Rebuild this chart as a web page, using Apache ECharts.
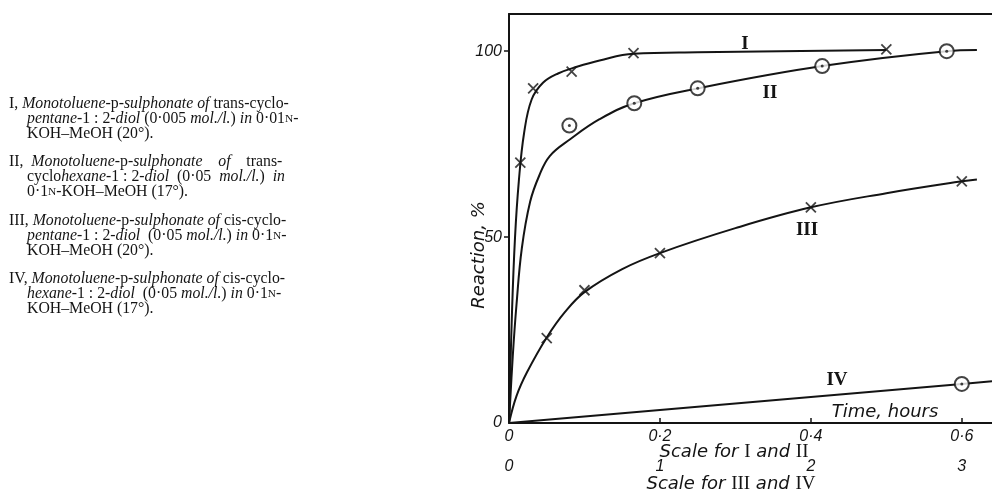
<!DOCTYPE html>
<html><head><meta charset="utf-8">
<script src="https://cdn.jsdelivr.net/npm/echarts@6/dist/echarts.min.js"></script>
<style>html,body{margin:0;padding:0;background:#fff}#c{width:992px;height:493px}</style>
</head><body><div id="c"></div>
<script>
// ---- tick values ----
const xTicksI = [0, 0.2, 0.4, 0.6];      // scale for I and II (hours)
const xTicksIII = [0, 1, 2, 3];          // scale for III and IV (hours)
const yTicks = [0, 50, 100];

// ---- series I (x in hours, scale for I and II) ----
const ptsI = [[0.015, 70], [0.032, 90], [0.083, 94.5], [0.165, 99.5], [0.5, 100.5]];
const curveI = [[0, 0], [0.004, 30], [0.008, 50], [0.013, 65], [0.02, 78], [0.03, 87], [0.045, 91.5], [0.065, 94], [0.09, 95.8], [0.12, 97.5], [0.165, 99.3], [0.25, 99.7], [0.5, 100.3]];
// ---- series II ----
const ptsII = [[0.08, 80], [0.166, 86], [0.25, 90], [0.415, 96], [0.58, 100]];
const curveII = [[0, 0], [0.005, 18], [0.01, 32], [0.017, 47], [0.028, 59.5], [0.04, 66.5], [0.054, 71.8], [0.081, 76.3], [0.12, 81.7], [0.166, 86], [0.25, 90], [0.415, 96], [0.58, 100], [0.62, 100.3]];
// ---- series III (x in hours, scale for III and IV) ----
const ptsIII = [[0.25, 22.8], [0.5, 35.7], [1, 45.7], [2, 58], [3, 65]];
const curveIII = [[0, 0], [0.05, 7.3], [0.12, 13.7], [0.25, 23], [0.37, 29.8], [0.5, 35.2], [0.75, 41.4], [1, 45.7], [1.5, 52.4], [2, 58], [2.5, 61.8], [3, 65], [3.1, 65.5]];
// ---- series IV ----
const ptsIV = [[3, 10.5]];
const curveIV = [[0, 0], [3, 10.5], [3.2, 11.2]];

const INK = '#141414';
const NUMF = 'Liberation Sans';
const WORDF = 'DejaVu Sans';
const SERIF = 'Liberation Serif';
const crossPath = 'path://M0 0L10 10M10 0L0 10';

const chart = echarts.init(document.getElementById('c'), null, {renderer: 'canvas'});

function lineSeries(data, xi, smooth) {
  return {type: 'line', data: data, xAxisIndex: xi, yAxisIndex: 0, smooth: smooth ? 0.4 : false,
    showSymbol: false, silent: true,
    lineStyle: {color: INK, width: 2}, z: 2};
}
function crossSeries(data, xi) {
  return {type: 'scatter', data: data, xAxisIndex: xi, symbol: crossPath, symbolSize: 10, silent: true,
    itemStyle: {color: 'rgba(0,0,0,0)', borderColor: INK, borderWidth: 1.8}, z: 4};
}
function circleSeries(data, xi) {
  return [
    {type: 'scatter', data: data, xAxisIndex: xi, symbol: 'circle', symbolSize: 14, silent: true,
      itemStyle: {color: '#fff', borderColor: INK, borderWidth: 2}, z: 4},
    {type: 'scatter', data: data, xAxisIndex: xi, symbol: 'circle', symbolSize: 3, silent: true,
      itemStyle: {color: INK}, z: 5}
  ];
}
const fmtDot = v => v === 0 ? '0' : String(+v.toFixed(2)).replace('.', '·');

const labelStyle = {fontFamily: NUMF, fontStyle: 'italic', fontSize: 16, color: INK};
const TS = 15.8;

function txt(x, y, text) {
  return {type: 'text', x: x, y: y, silent: true,
    style: {text: text, fill: INK, fontFamily: SERIF, fontSize: TS,
      verticalAlign: 'middle', align: 'left',
      rich: {
        i: {fontStyle: 'italic', fontFamily: SERIF, fontSize: TS, fill: INK},
        s: {fontFamily: SERIF, fontSize: TS * 0.72, fill: INK}
      }}};
}

const legendLines = [
  [9, 104, 'I, {i|Monotoluene}-p-{i|sulphonate of} trans-cyclo-'],
  [27, 119, '{i|pentane}-1 : 2-{i|diol} (0·005 {i|mol./l.}) {i|in} 0·01{s|N}-'],
  [27, 134, 'KOH–MeOH (20°).'],
  [9, 162, 'II,  {i|Monotoluene}-p-{i|sulphonate}    {i|of}    trans-'],
  [27, 177, 'cyclo{i|hexane}-1 : 2-{i|diol}  (0·05  {i|mol./l.})  {i|in}'],
  [27, 192, '0·1{s|N}-KOH–MeOH (17°).'],
  [9, 221, 'III, {i|Monotoluene}-p-{i|sulphonate of} cis-cyclo-'],
  [27, 236, '{i|pentane}-1 : 2-{i|diol}  (0·05 {i|mol./l.}) {i|in} 0·1{s|N}-'],
  [27, 251, 'KOH–MeOH (20°).'],
  [9, 279, 'IV, {i|Monotoluene}-p-{i|sulphonate of} cis-cyclo-'],
  [27, 294, '{i|hexane}-1 : 2-{i|diol}  (0·05 {i|mol./l.}) {i|in} 0·1{s|N}-'],
  [27, 309, 'KOH–MeOH (17°).']
];

const graphics = legendLines.map(l => txt(l[0], l[1], l[2]));
// curve labels
[['I', 745, 44], ['II', 770, 93], ['III', 807, 230], ['IV', 837, 380]].forEach(c => {
  graphics.push({type: 'text', x: c[1], y: c[2], silent: true,
    style: {text: c[0], fill: INK, fontFamily: SERIF, fontSize: 19, fontWeight: 'bold', align: 'center', verticalAlign: 'middle'}});
});
const rn = {r: {fontFamily: SERIF, fontSize: 19, fontStyle: 'normal', fill: INK}};
// axis titles
graphics.push({type: 'text', x: 885, y: 412, silent: true,
  style: {text: 'Time, hours', fill: INK, fontFamily: WORDF, fontStyle: 'italic', fontSize: 18, align: 'center', verticalAlign: 'middle'}});
graphics.push({type: 'text', x: 734, y: 452, silent: true,
  style: {text: 'Scale for {r|I} and {r|II}', fill: INK, fontFamily: WORDF, fontStyle: 'italic', fontSize: 18, align: 'center', verticalAlign: 'middle', rich: rn}});
graphics.push({type: 'text', x: 731, y: 484, silent: true,
  style: {text: 'Scale for {r|III} and {r|IV}', fill: INK, fontFamily: WORDF, fontStyle: 'italic', fontSize: 18, align: 'center', verticalAlign: 'middle', rich: rn}});
graphics.push({type: 'text', x: 479, y: 255, rotation: Math.PI / 2, silent: true,
  style: {text: 'Reaction, %', fill: INK, fontFamily: WORDF, fontStyle: 'italic', fontSize: 18, align: 'center', verticalAlign: 'middle'}});

const option = {
  animation: false,
  backgroundColor: '#fff',
  grid: {left: 509, top: 14, right: 0, bottom: 70, show: false},
  xAxis: [
    {type: 'value', min: 0, max: 0.64, interval: 0.2, position: 'bottom',
      axisLine: {show: true, lineStyle: {color: INK, width: 2}},
      axisTick: {show: true, inside: true, length: 5, lineStyle: {color: INK, width: 1.5}, customValues: xTicksI.slice(1)},
      axisLabel: Object.assign({margin: 6, formatter: fmtDot, customValues: xTicksI}, labelStyle),
      splitLine: {show: false}},
    {type: 'value', min: 0, max: 3.2, interval: 1, position: 'bottom', offset: 30,
      axisLine: {show: false}, axisTick: {show: false},
      axisLabel: Object.assign({margin: 6, customValues: xTicksIII}, labelStyle),
      splitLine: {show: false}},
    {type: 'value', min: 0, max: 1, position: 'top',
      axisLine: {show: true, lineStyle: {color: INK, width: 2}}, axisTick: {show: false},
      axisLabel: {show: false}, splitLine: {show: false}}
  ],
  yAxis: [
    {type: 'value', min: 0, max: 110, interval: 50,
      axisLine: {show: true, lineStyle: {color: INK, width: 2}},
      axisTick: {show: true, inside: false, length: 5, lineStyle: {color: INK, width: 1.5}, customValues: yTicks.slice(1)},
      axisLabel: Object.assign({margin: 7, customValues: yTicks}, labelStyle),
      splitLine: {show: false}}
  ],
  series: [
    lineSeries(curveI, 0, true),
    crossSeries(ptsI, 0),
    lineSeries(curveII, 0, true),
    ...circleSeries(ptsII, 0),
    lineSeries(curveIII, 1, true),
    crossSeries(ptsIII, 1),
    lineSeries(curveIV, 1, false),
    ...circleSeries(ptsIV, 1)
  ],
  graphic: graphics
};
chart.setOption(option);
</script>
</body></html>
